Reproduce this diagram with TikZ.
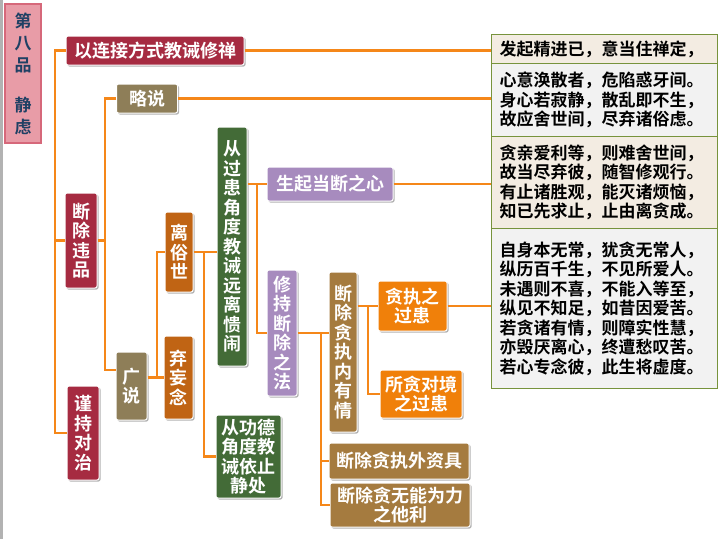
\documentclass[tikz,border=0pt]{standalone}
\usepackage{fontspec}
\setmainfont{Noto Sans CJK SC}[BoldFont={Noto Sans CJK SC Bold}]
\usetikzlibrary{shadows}

\definecolor{lineorange}{RGB}{245,135,25}
\definecolor{boxred}{RGB}{166,43,65}
\definecolor{boxkhaki}{RGB}{142,126,88}
\definecolor{boxrust}{RGB}{192,100,20}
\definecolor{boxgreen}{RGB}{67,107,55}
\definecolor{boxpurple}{RGB}{167,139,190}
\definecolor{boxbrown}{RGB}{165,123,63}
\definecolor{boxorange}{RGB}{240,128,10}
\definecolor{titlepink}{RGB}{232,156,167}
\definecolor{titleedge}{RGB}{214,104,122}
\definecolor{titleblue}{RGB}{31,64,100}
\definecolor{rowgreen}{RGB}{119,147,60}
\definecolor{rowbeige}{RGB}{243,236,226}
\definecolor{rowgray}{RGB}{242,242,242}

\begin{document}
\begin{tikzpicture}[x=1pt, y=-1pt,
    box/.style={draw=white, line width=1pt, rounded corners=2pt, text=white, inner sep=0pt,
      align=center, font=\bfseries\fontsize{18}{19.5}\selectfont,
      drop shadow={shadow xshift=1.5pt, shadow yshift=-1.5pt, opacity=0.3, fill=black}},
    link/.style={draw=lineorange, line width=2.5pt},
    row/.style={draw=rowgreen, line width=1pt, anchor=north west, inner xsep=8pt, inner ysep=0pt,
      text width=210pt, minimum height=#1, align=left, font=\bfseries\fontsize{17}{19.5}\selectfont}]
  \useasboundingbox (0,0) rectangle (720,539);
  \fill[gray!60] (0,0) rectangle (2.5,539);

  % title
  \node[draw=titleedge, fill=titlepink, line width=1.5pt, text=titleblue, inner sep=0pt, align=center,
    minimum width=36pt, minimum height=139pt, font=\bfseries\fontsize{17}{22}\selectfont]
    (title) at (23,73.5) {第\\八\\品\\[18pt]静\\虑};

  % boxes
  \node[box, fill=boxred, minimum width=178pt, minimum height=29pt] (lianjie) at (155,50.5) {以连接方式教诫修禅};
  \node[box, fill=boxkhaki, minimum width=61pt, minimum height=29pt] (luoshuo) at (147,98.5) {略说};
  \node[box, fill=boxred, minimum width=32pt, minimum height=95pt] (duanchu) at (81,240.5) {断\\除\\违\\品};
  \node[box, fill=boxred, minimum width=32pt, minimum height=94pt] (jinchi) at (83,433) {谨\\持\\对\\治};
  \node[box, fill=boxkhaki, minimum width=31pt, minimum height=68pt] (guangshuo) at (131.5,386) {广\\说};
  \node[box, fill=boxrust, minimum width=28pt, minimum height=80pt] (lisu) at (179,252) {离\\俗\\世};
  \node[box, fill=boxrust, minimum width=29pt, minimum height=83pt] (qiwang) at (178.5,377.5) {弃\\妄\\念};
  \node[box, fill=boxgreen, minimum width=30pt, minimum height=239pt] (guohuan) at (232,246.5)
    {从\\过\\患\\角\\度\\教\\诫\\远\\离\\愦\\闹};
  \node[box, fill=boxgreen, minimum width=65pt, minimum height=83pt] (gongde) at (248.5,456.5)
    {从功德\\角度教\\诫依止\\静处};
  \node[box, fill=boxpurple, minimum width=126pt, minimum height=34pt] (shengqi) at (330,184) {生起当断之心};
  \node[box, fill=boxpurple, minimum width=30pt, minimum height=126pt] (xiuchi) at (282,333)
    {修\\持\\断\\除\\之\\法};
  \node[box, fill=boxbrown, minimum width=28pt, minimum height=160pt] (neiyouqing) at (343,352)
    {断\\除\\贪\\执\\内\\有\\情};
  \node[box, fill=boxorange, minimum width=69pt, minimum height=50pt] (tanzhi) at (412.5,306) {贪执之\\过患};
  \node[box, fill=boxorange, minimum width=82pt, minimum height=48pt] (suotan) at (421,394) {所贪对境\\之过患};
  \node[box, fill=boxbrown, minimum width=140pt, minimum height=36pt] (waiziju) at (399,461) {断除贪执外资具};
  \node[box, fill=boxbrown, minimum width=140pt, minimum height=44pt] (tali) at (400,505)
    {断除贪无能为力\\之他利};

  % verse table
  \node[row=29pt, fill=rowbeige] (row1) at (491,34) {发起精进已，意当住禅定，};
  \node[row=73pt, fill=rowgray] (row2) at (491,63)
    {心意涣散者，危陷惑牙间。\\身心若寂静，散乱即不生，\\故应舍世间，尽弃诸俗虑。};
  \node[row=92pt, fill=rowbeige] (row3) at (491,136)
    {贪亲爱利等，则难舍世间，\\故当尽弃彼，随智修观行。\\有止诸胜观，能灭诸烦恼，\\知已先求止，止由离贪成。};
  \node[row=160pt, fill=rowgray] (row4) at (491,228)
    {自身本无常，犹贪无常人，\\纵历百千生，不见所爱人。\\未遇则不喜，不能入等至，\\纵见不知足，如昔因爱苦。\\若贪诸有情，则障实性慧，\\亦毁厌离心，终遭愁叹苦。\\若心专念彼，此生将虚度。};

  % trunks
  \coordinate (tA) at (55,0);
  \coordinate (tB) at (105,0);
  \coordinate (tC) at (157,0);
  \coordinate (tD) at (204,0);
  \coordinate (tE) at (257,0);
  \coordinate (tF) at (321,0);
  \coordinate (tG) at (368,0);

  \draw[link] (lianjie.west) -- (lianjie.west -| tA) |- (jinchi.west);
  \draw[link] (duanchu.west -| tA) -- (duanchu.west);
  \draw[link] (luoshuo.west) -- (luoshuo.west -| tB) |- ([yshift=16pt]guangshuo.west);
  \draw[link] (duanchu.east) -- (duanchu.east -| tB);
  \draw[link] (guangshuo.east |- qiwang.west) -- (qiwang.west);
  \draw[link] (qiwang.west -| tC) |- (lisu.west);
  \draw[link] (lisu.east) -- (lisu.east -| guohuan.west);
  \draw[link] (lisu.east -| tD) |- (gongde.west);
  \draw[link] (guohuan.east |- shengqi.west) -- (shengqi.west);
  \draw[link] (shengqi.west -| tE) |- (xiuchi.west);
  \draw[link] (xiuchi.east) -- (xiuchi.east -| neiyouqing.west);
  \draw[link] (xiuchi.east -| tF) |- (waiziju.west);
  \draw[link] (xiuchi.east -| tF) |- (tali.west);
  \draw[link] (neiyouqing.east |- tanzhi.west) -- (tanzhi.west);
  \draw[link] (tanzhi.west -| tG) |- (suotan.west);

  % to the verses
  \draw[link] (lianjie.east) -- (lianjie.east -| row1.west);
  \draw[link] (luoshuo.east) -- (luoshuo.east -| row2.west);
  \draw[link] (shengqi.east) -- (shengqi.east -| row3.west);
  \draw[link] (tanzhi.east) -- (tanzhi.east -| row4.west);
\end{tikzpicture}
\end{document}
